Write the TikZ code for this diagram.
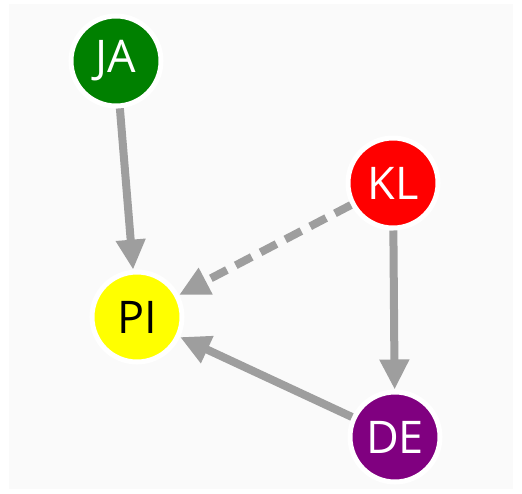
\documentclass[tikz,border=0pt]{standalone}
\usepackage{fontspec}
\setmainfont{Open Sans}
\usetikzlibrary{arrows.meta}
\definecolor{edgegray}{HTML}{9E9E9E}
\definecolor{bggray}{HTML}{FAFAFA}
\definecolor{jagreen}{HTML}{008000}
\definecolor{klred}{HTML}{FF0000}
\definecolor{piyellow}{HTML}{FFFF00}
\definecolor{depurple}{HTML}{800080}
\begin{document}
\begin{tikzpicture}[x=1pt,y=-1pt,
  person/.style={circle, draw=white, line width=5pt, minimum size=90pt, inner sep=0pt,
    font=\fontsize{45}{45}\selectfont},
  link/.style={draw=edgegray, line width=8pt, -{Triangle[length=30pt,width=28pt]}},
  dashedlink/.style={link, dash pattern=on 18pt off 10pt}
]
\useasboundingbox (0,0) rectangle (522,493);
\fill[bggray] (9,4) rectangle (513,489);
\node[person, fill=jagreen, text=white] (JA) at (116,61) {JA};
\node[person, fill=piyellow, text=black] (PI) at (137,317) {PI};
\node[person, fill=klred, text=white] (KL) at (393,183) {KL};
\node[person, fill=depurple, text=white] (DE) at (395,437) {DE};
\draw[link] (JA) -- (PI);
\draw[dashedlink] (KL) -- (PI);
\draw[link] (KL) -- (DE);
\draw[link] (DE) -- (PI);
\end{tikzpicture}
\end{document}
